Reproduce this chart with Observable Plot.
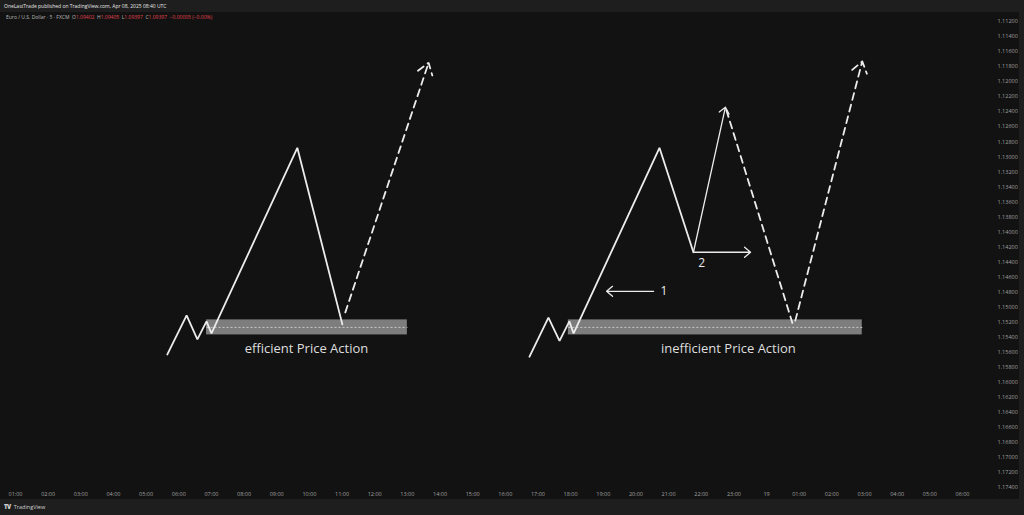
<!DOCTYPE html>
<html><head><meta charset="utf-8">
<script src="https://cdn.jsdelivr.net/npm/d3@7"></script>
<script src="https://cdn.jsdelivr.net/npm/@observablehq/plot@0.6"></script>
<style>
html,body{margin:0;padding:0;}
body{width:1024px;height:515px;overflow:hidden;background:#1e1e1e;position:relative;font-family:"Open Sans","Liberation Sans",sans-serif;}
#hdr{position:absolute;left:4px;top:0;height:12px;line-height:12px;font-size:5px;color:#e6e6e6;}
#pane{position:absolute;left:0;top:12px;width:1019px;height:487px;background:#121212;}
#legend{position:absolute;left:6px;top:2px;font-size:5px;line-height:7px;color:#b8b8b8;white-space:pre;z-index:2;}
#legend .r{color:#e0424e;}
#ftr{position:absolute;left:4px;top:501px;height:12px;line-height:12px;font-size:5.5px;color:#d0d0d0;}
#ftr b{font-weight:900;font-size:6px;letter-spacing:-0.5px;margin-right:3px;}
</style>
</head><body>
<div id="hdr">OneLastTrade published on TradingView.com, Apr 08, 2025 08:40 UTC</div>
<div id="pane"><div id="legend">Euro / U.S. Dollar · 5 · FXCM  O<span class="r">1.09402</span>  H<span class="r">1.09405</span>  L<span class="r">1.09397</span>  C<span class="r">1.09397</span>  <span class="r">−0.00005 (−0.00%)</span></div><div id="chart"></div></div>
<div id="ftr"><b>TV</b>TradingView</div>
<script>
// x = hours since start (1 = 01:00), y = price (inverted scale)
const hourTicks = [1,2,3,4,5,6,7,8,9,10,11,12,13,14,15,16,17,18,19,20,21,22,23,24,25,26,27,28,29,30];
const hourLabels = ["01:00","02:00","03:00","04:00","05:00","06:00","07:00","08:00","09:00","10:00","11:00","12:00","13:00","14:00","15:00","16:00","17:00","18:00","19:00","20:00","21:00","22:00","23:00","19","01:00","02:00","03:00","04:00","05:00","06:00"];
const priceTicks = [1.112,1.114,1.116,1.118,1.120,1.122,1.124,1.126,1.128,1.130,1.132,1.134,1.136,1.138,1.140,1.142,1.144,1.146,1.148,1.150,1.152,1.154,1.156,1.158,1.160,1.162,1.164,1.166,1.168,1.170,1.172,1.174];

// solid price legs
const effLegH = [5.65, 6.24, 6.57, 6.85, 7.00, 9.63, 11.01];
const effLegP = [1.1563, 1.1511, 1.1543, 1.1519, 1.1535, 1.1288, 1.1523];
const ineffLegH = [16.74, 17.32, 17.66, 17.96, 18.09, 20.72, 21.76];
const ineffLegP = [1.1566, 1.1514, 1.1545, 1.1519, 1.1535, 1.1288, 1.1427];

// dashed leg (right side, from the spike back into zone)
const dashLegH = [22.77, 24.79];
const dashLegP = [1.1238, 1.1521];

// dashed projection arrows
const projFromH = [11.10, 24.88];
const projFromP = [1.1507, 1.1518];
const projToH = [13.65, 26.93];
const projToP = [1.1175, 1.1173];

// thin solid arrows
const arrFromH = [21.76, 21.76, 20.54];
const arrFromP = [1.1427, 1.1427, 1.1479];
const arrToH = [22.74, 23.51, 19.10];
const arrToP = [1.1234, 1.1427, 1.1479];

// zones
const zoneStartH = [6.85, 17.93];
const zoneEndH = [13.00, 26.93];
const zoneTopP = 1.1517;
const zoneBottomP = 1.1537;
const zoneMidP = 1.1527;

// texts
const captionText = ["efficient Price Action", "inefficient Price Action"];
const captionH = [9.91, 22.83];
const captionP = 1.1556;
const markText = ["1", "2"];
const markH = [20.75, 21.91];
const markP = [1.1479, 1.1441];

const legs = [
  ...effLegH.map((h,i)=>({h, p: effLegP[i], leg: "eff"})),
  ...ineffLegH.map((h,i)=>({h, p: ineffLegP[i], leg: "ineff"}))
];
const dashLeg = dashLegH.map((h,i)=>({h, p: dashLegP[i]}));
const proj = projFromH.map((h,i)=>({x1:h, y1:projFromP[i], x2:projToH[i], y2:projToP[i]}));
const arrows = arrFromH.map((h,i)=>({x1:h, y1:arrFromP[i], x2:arrToH[i], y2:arrToP[i]}));
const zones = zoneStartH.map((s,i)=>({s, e: zoneEndH[i]}));
const captions = captionText.map((t,i)=>({t, h: captionH[i], p: captionP}));
const marks = markText.map((t,i)=>({t, h: markH[i], p: markP[i]}));
const labelMap = new Map(hourTicks.map((h,i)=>[h, hourLabels[i]]));

const ink = "#ececec";
const chart = Plot.plot({
  width: 1019,
  height: 487,
  marginLeft: 15,
  marginRight: 57,
  marginTop: 9,
  marginBottom: 12,
  style: {background: "#121212", color: "#a8a8a8", fontFamily: "'Open Sans','Liberation Sans',sans-serif"},
  x: {domain: [1, 30]},
  y: {domain: [1.112, 1.174], reverse: true},
  marks: [
    Plot.rect(zones, {x1: "s", x2: "e", y1: () => zoneTopP, y2: () => zoneBottomP, fill: "#7d7d7d"}),
    Plot.link(zones, {x1: "s", x2: "e", y1: () => zoneMidP, y2: () => zoneMidP, stroke: "#c9c9c9", strokeWidth: 1, strokeDasharray: "2,2"}),
    Plot.line(legs, {x: "h", y: "p", z: "leg", stroke: ink, strokeWidth: 1.8, strokeLinejoin: "miter"}),
    Plot.line(dashLeg, {x: "h", y: "p", stroke: ink, strokeWidth: 1.8, strokeDasharray: "7,5"}),
    Plot.arrow(proj, {x1: "x1", y1: "y1", x2: "x2", y2: "y2", stroke: ink, strokeWidth: 1.8, strokeDasharray: "7,5", headLength: 11, headAngle: 70}),
    Plot.arrow(arrows, {x1: "x1", y1: "y1", x2: "x2", y2: "y2", stroke: ink, strokeWidth: 1.3, headLength: 9, headAngle: 80}),
    Plot.text(marks, {x: "h", y: "p", text: "t", fill: ink, fontSize: 12, textAnchor: "start"}),
    Plot.text(captions, {x: "h", y: "p", text: "t", fill: "#dedede", fontSize: 13}),
    Plot.axisX(hourTicks, {anchor: "bottom", tickSize: 0, tickPadding: 5, fontSize: 5.5, tickFormat: d => labelMap.get(d), label: null, fill: "#a0a0a0"}),
    Plot.axisY(priceTicks, {anchor: "right", tickSize: 0, tickPadding: 35, fontSize: 5.5, tickFormat: d3.format(".5f"), label: null, fill: "#a0a0a0"})
  ]
});
document.getElementById("chart").appendChild(chart);
</script>
</body></html>
